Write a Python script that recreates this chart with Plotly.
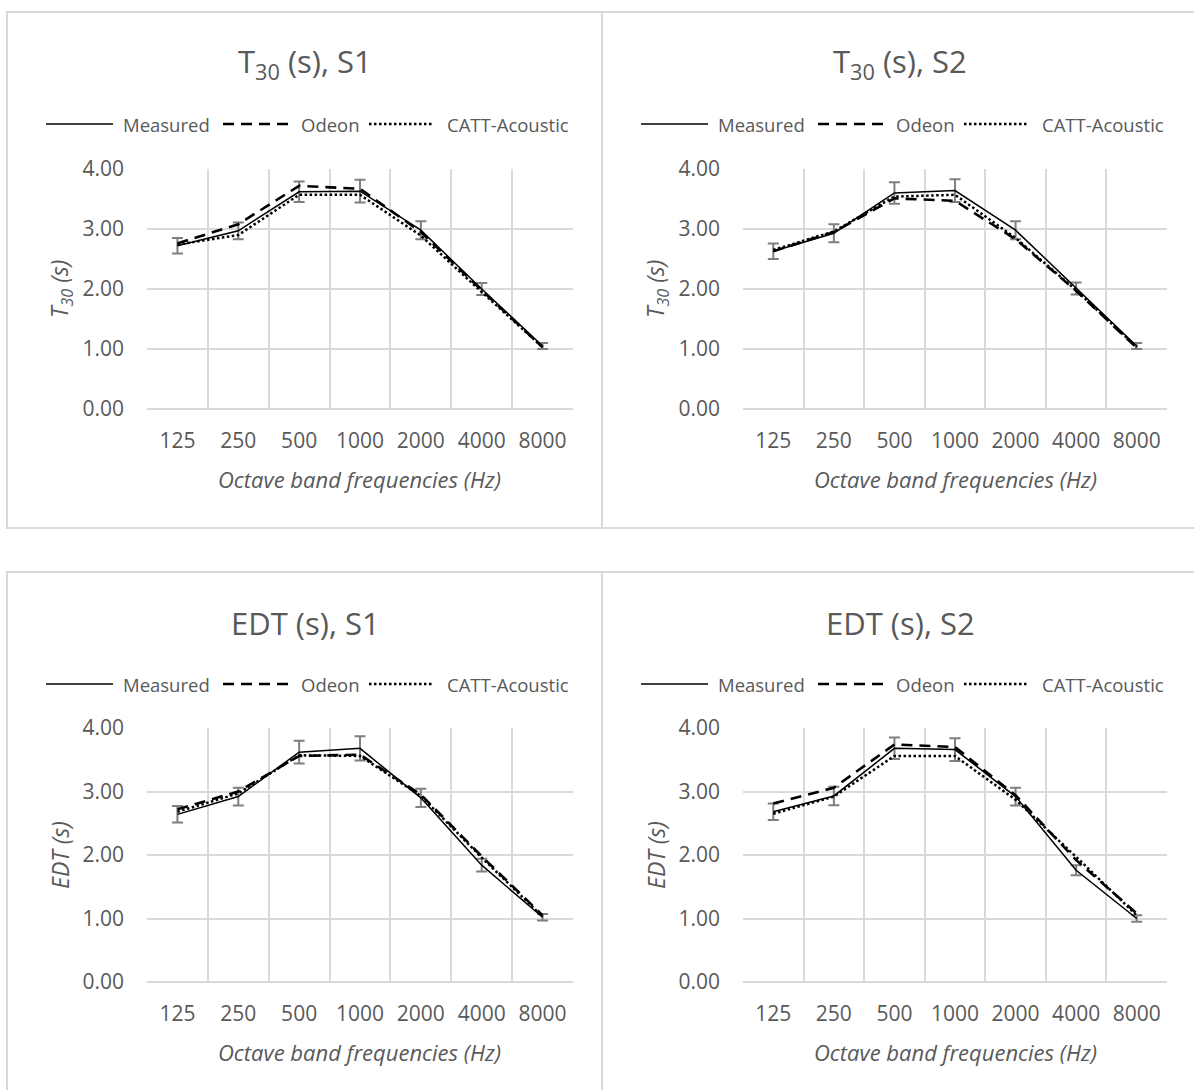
import plotly.graph_objects as go

# Octave band centre frequencies (categories)
bands = ["125", "250", "500", "1000", "2000", "4000", "8000"]

# T30 (s), source S1
t30_s1_measured = [2.72, 2.97, 3.62, 3.63, 2.98, 2.00, 1.05]
t30_s1_err = [0.13, 0.14, 0.17, 0.19, 0.15, 0.10, 0.05]
t30_s1_odeon = [2.76, 3.08, 3.72, 3.67, 2.95, 1.98, 1.03]
t30_s1_catt = [2.74, 2.90, 3.57, 3.57, 2.89, 1.95, 1.03]

# T30 (s), source S2
t30_s2_measured = [2.63, 2.93, 3.60, 3.64, 2.98, 2.01, 1.05]
t30_s2_err = [0.13, 0.15, 0.18, 0.19, 0.15, 0.10, 0.05]
t30_s2_odeon = [2.63, 2.95, 3.51, 3.47, 2.83, 1.97, 1.02]
t30_s2_catt = [2.65, 2.96, 3.54, 3.57, 2.85, 1.98, 1.03]

# EDT (s), source S1
edt_s1_measured = [2.64, 2.92, 3.62, 3.68, 2.90, 1.84, 1.02]
edt_s1_err = [0.13, 0.14, 0.18, 0.19, 0.145, 0.10, 0.05]
edt_s1_odeon = [2.72, 3.00, 3.56, 3.58, 2.95, 1.98, 1.05]
edt_s1_catt = [2.68, 2.97, 3.57, 3.56, 2.93, 1.96, 1.03]

# EDT (s), source S2
edt_s2_measured = [2.68, 2.93, 3.68, 3.66, 2.92, 1.76, 1.00]
edt_s2_err = [0.13, 0.145, 0.17, 0.18, 0.14, 0.08, 0.05]
edt_s2_odeon = [2.81, 3.06, 3.74, 3.70, 2.94, 1.92, 1.08]
edt_s2_catt = [2.65, 2.92, 3.56, 3.56, 2.87, 1.97, 1.05]

y_ticks = [0, 1, 2, 3, 4]
series_names = ["Measured", "Odeon", "CATT-Acoustic"]

W, H = 1194, 1090
FONT = "Open Sans"
TXT = "#595959"
GRID = "#d9d9d9"

SOLID = dict(color="black", width=1.5)
DASHED = dict(color="black", width=2.6, dash="11px,7px")
DOTTED = dict(color="black", width=2.5, dash="2.5px,2.5px")


def fx(p):
    return p / W


def fy(p):
    return 1 - p / H


panels = [
    dict(title="T<sub>30</sub> (s), S1", ytitle="<i>T<sub>30</sub> (s)</i>",
         meas=t30_s1_measured, err=t30_s1_err, odeon=t30_s1_odeon, catt=t30_s1_catt,
         box=(7, 602, 12, 528), plot=(147, 573, 169, 409), cx=305),
    dict(title="T<sub>30</sub> (s), S2", ytitle="<i>T<sub>30</sub> (s)</i>",
         meas=t30_s2_measured, err=t30_s2_err, odeon=t30_s2_odeon, catt=t30_s2_catt,
         box=(602, 1200, 12, 528), plot=(743, 1167, 169, 409), cx=900),
    dict(title="EDT (s), S1", ytitle="<i>EDT (s)</i>",
         meas=edt_s1_measured, err=edt_s1_err, odeon=edt_s1_odeon, catt=edt_s1_catt,
         box=(7, 602, 572, 1100), plot=(147, 573, 728, 982), cx=305),
    dict(title="EDT (s), S2", ytitle="<i>EDT (s)</i>",
         meas=edt_s2_measured, err=edt_s2_err, odeon=edt_s2_odeon, catt=edt_s2_catt,
         box=(602, 1200, 572, 1100), plot=(743, 1167, 728, 982), cx=900),
]

fig = go.Figure()
shapes = []
annotations = []

for i, p in enumerate(panels, start=1):
    sfx = "" if i == 1 else str(i)
    xa, ya = "x" + sfx, "y" + sfx

    fig.add_trace(go.Scatter(
        x=bands, y=p["meas"], name=series_names[0], mode="lines", line=SOLID,
        error_y=dict(type="data", array=p["err"], visible=True,
                     color="#7f7f7f", thickness=2, width=5.5),
        xaxis=xa, yaxis=ya, showlegend=False))
    fig.add_trace(go.Scatter(
        x=bands, y=p["odeon"], name=series_names[1], mode="lines", line=DASHED,
        xaxis=xa, yaxis=ya, showlegend=False))
    fig.add_trace(go.Scatter(
        x=bands, y=p["catt"], name=series_names[2], mode="lines", line=DOTTED,
        xaxis=xa, yaxis=ya, showlegend=False))

    x0, x1, y0, y1 = p["plot"]
    fig.update_layout(**{
        "xaxis" + sfx: dict(
            domain=[fx(x0), fx(x1)], anchor=ya, type="category",
            range=[-0.5, 6.5], tickson="boundaries", ticks="",
            showgrid=True, gridcolor=GRID, gridwidth=1.5,
            showline=False, zeroline=False, automargin=False,
            tickfont=dict(family=FONT, size=21, color=TXT),
            ticklabelstandoff=17, fixedrange=True),
        "yaxis" + sfx: dict(
            domain=[fy(y1), fy(y0)], anchor=xa, range=[0, 4],
            tickvals=y_ticks, tickformat=".2f", ticks="",
            showgrid=True, gridcolor=GRID, gridwidth=1.5,
            zeroline=True, zerolinecolor=GRID, zerolinewidth=1.5,
            showline=False, automargin=False,
            tickfont=dict(family=FONT, size=21, color=TXT),
            ticklabelstandoff=22, fixedrange=True),
    })

    # Chart frame
    bx0, bx1, by0, by1 = p["box"]
    shapes.append(dict(type="rect", xref="paper", yref="paper",
                       x0=fx(bx0), x1=fx(bx1), y0=fy(by1), y1=fy(by0),
                       line=dict(color=GRID, width=2), layer="below"))

    cx = p["cx"]
    # Chart title
    annotations.append(dict(text=p["title"], x=fx(cx), y=fy(by0 + 51),
                            xref="paper", yref="paper", showarrow=False,
                            xanchor="center", yanchor="middle",
                            font=dict(family=FONT, size=31, color=TXT)))

    # Legend row
    ly = by0 + 112
    legend_items = [
        (series_names[0], SOLID, -259, -192, -184),
        (series_names[1], DASHED, -82, -16, -6),
        (series_names[2], DOTTED, 64, 128, 140),
    ]
    for name, ls, a, b, t in legend_items:
        shapes.append(dict(type="line", xref="paper", yref="paper",
                           x0=fx(cx + a), x1=fx(cx + b), y0=fy(ly), y1=fy(ly),
                           line=ls))
        annotations.append(dict(text=name, x=fx(cx + t), y=fy(ly),
                                xref="paper", yref="paper", showarrow=False,
                                xanchor="left", yanchor="middle",
                                font=dict(family=FONT, size=18.5, color=TXT)))

    # Axis titles
    annotations.append(dict(text="<i>Octave band frequencies (Hz)</i>",
                            x=fx((x0 + x1) / 2), y=fy(y1 + 70),
                            xref="paper", yref="paper", showarrow=False,
                            xanchor="center", yanchor="middle",
                            font=dict(family=FONT, size=22, color=TXT)))
    annotations.append(dict(text=p["ytitle"], x=fx(x0 - 87), y=fy((y0 + y1) / 2),
                            xref="paper", yref="paper", showarrow=False,
                            textangle=-90, xanchor="center", yanchor="middle",
                            font=dict(family=FONT, size=23, color=TXT)))

fig.update_layout(
    width=W, height=H,
    margin=dict(l=0, r=0, t=0, b=0),
    paper_bgcolor="white", plot_bgcolor="white",
    showlegend=False,
    shapes=shapes, annotations=annotations,
)

fig.write_html("out.html")
